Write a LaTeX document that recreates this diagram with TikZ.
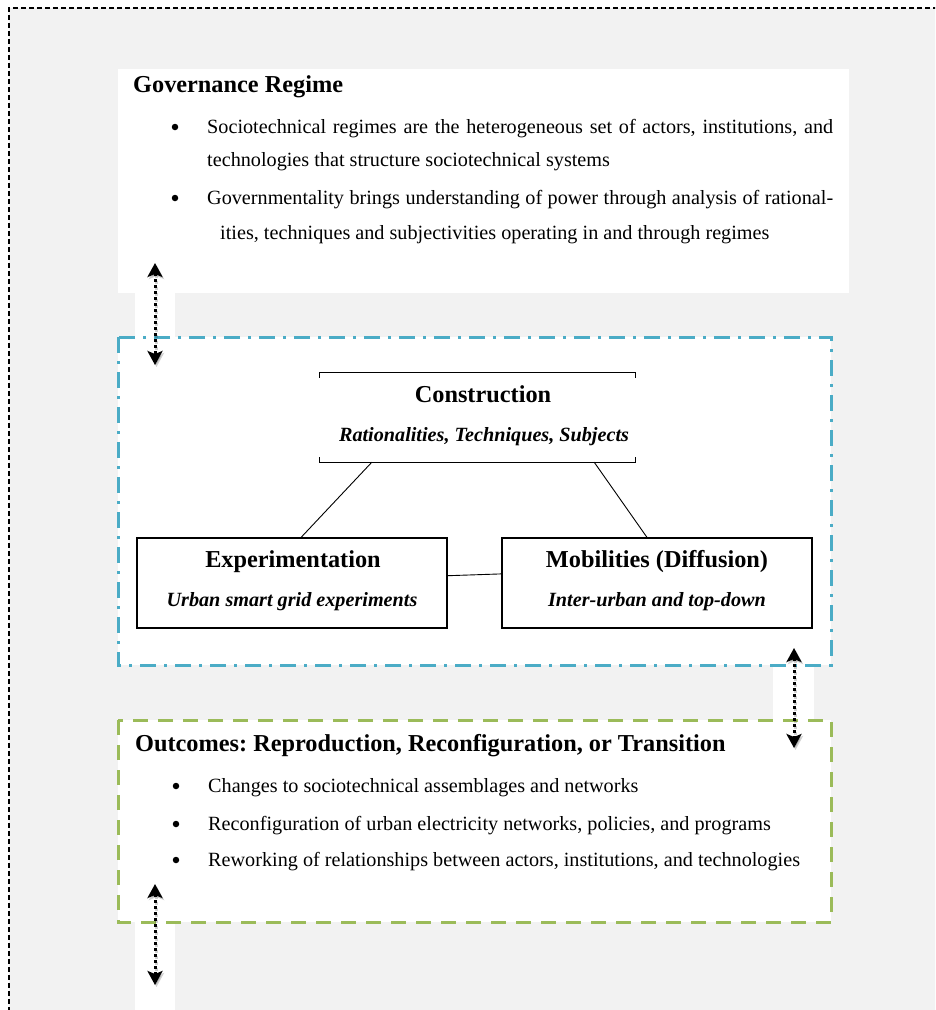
\documentclass[tikz,border=0pt]{standalone}
\usepackage{fontspec}
\setmainfont{Liberation Serif}
\frenchspacing
\usetikzlibrary{arrows.meta,calc}
\definecolor{bggray}{HTML}{F2F2F2}
\definecolor{dashblue}{HTML}{4BACC6}
\definecolor{dashgreen}{HTML}{9BBB59}
\tikzset{
  title/.style={anchor=base west,inner sep=0pt,font=\fontsize{24.3}{28}\selectfont\bfseries},
  body/.style={anchor=base west,inner sep=0pt,font=\fontsize{20.2}{24}\selectfont},
  bul/.style={circle,fill=black,inner sep=0pt,minimum size=6.5pt},
  boxtitle/.style={anchor=base,inner sep=0pt,font=\fontsize{24.3}{28}\selectfont\bfseries},
  boxsub/.style={anchor=base,inner sep=0pt,font=\fontsize{20.2}{24}\selectfont\bfseries\itshape},
  framebox/.style={draw=black,line width=1.1pt,inner sep=0pt},
  link/.style={draw=black,line width=0.9pt},
  dotarrow/.style={line width=3pt,dash pattern=on 3pt off 3pt,{Stealth[length=14pt,width=15pt,inset=3pt]}-{Stealth[length=14pt,width=15pt,inset=3pt]}},
  shadowarrow/.style={dotarrow,draw=black,opacity=0.18}
}
\begin{document}
\begin{tikzpicture}[x=1pt,y=-1pt]
\useasboundingbox (0,0) rectangle (935,1010);
\begin{scope}
\clip (0,0) rectangle (935,1010);
% outer gray area
\fill[bggray] (9,8) rectangle (945,1020);
\draw[black,line width=1.2pt,dash pattern=on 5pt off 3pt] (9,1020) -- (9,8) -- (945,8);
% white areas
\fill[white] (118,69) rectangle (849,293);
\fill[white] (135,292) rectangle (175,338);
\fill[white] (118,337) rectangle (831,665);
\fill[white] (773,664) rectangle (814,721);
\fill[white] (118,720) rectangle (831,922);
\fill[white] (135,921) rectangle (175,1015);
% blue and green frames
\draw[dashblue,line width=3pt,dash pattern=on 16pt off 8pt on 3pt off 8pt] (118,337) rectangle (831,665);
\draw[dashgreen,line width=3pt,dash pattern=on 15pt off 10pt] (118,720) rectangle (831,922);
\end{scope}

% Governance regime
\node[title] (govt) at (133,92) {Governance Regime};
\node[bul] (gb1) at (175,127) {};
\node[body] (g1) at (207,133) {\makebox[626pt][s]{Sociotechnical regimes are the heterogeneous set of actors, institutions, and}};
\node[body] (g2) at (207,166) {technologies that structure sociotechnical systems};
\node[bul] (gb2) at (175,198) {};
\node[body] (g3) at (207,204) {\makebox[626pt][s]{Governmentality brings understanding of power through analysis of rational-}};
\node[body] (g4) at (220,239) {ities, techniques and subjectivities operating in and through regimes};

% Construction box (top and bottom rules with end ticks)
\node[inner sep=0pt,minimum width=315pt,minimum height=89pt] (con) at (477.5,417.5) {};
\draw[black,line width=1.1pt] ([yshift=-5pt]con.north west) -- (con.north west) -- (con.north east) -- ([yshift=-5pt]con.north east);
\draw[black,line width=1.1pt] ([yshift=5pt]con.south west) -- (con.south west) -- (con.south east) -- ([yshift=5pt]con.south east);
\node[boxtitle] (cont) at (483,402) {Construction};
\node[boxsub] (cons) at (484,441) {Rationalities, Techniques, Subjects};

% Experimentation box
\node[framebox,minimum width=310pt,minimum height=90pt] (exp) at (292,583) {};
\node[boxtitle] (expt) at (293,567) {Experimentation};
\node[boxsub] (exps) at (292,606) {Urban smart grid experiments};

% Mobilities box
\node[framebox,minimum width=310pt,minimum height=90pt] (mob) at (657,583) {};
\node[boxtitle] (mobt) at (657,567) {Mobilities (Diffusion)};
\node[boxsub] (mobs) at (657,606) {Inter-urban and top-down};

% connectors
\draw[link] ($(con.south west)!0.165!(con.south east)$) -- ($(exp.north west)!0.529!(exp.north east)$);
\draw[link] ($(con.south west)!0.87!(con.south east)$) -- ($(mob.north west)!0.468!(mob.north east)$);
\draw[link] ($(exp.north east)!0.42!(exp.south east)$) -- ($(mob.north west)!0.40!(mob.south west)$);

% Outcomes
\node[title] (outt) at (135,751) {Outcomes: Reproduction, Reconfiguration, or Transition};
\node[bul] (ob1) at (176,786) {};
\node[body] (o1) at (208,792) {Changes to sociotechnical assemblages and networks};
\node[bul] (ob2) at (176,824) {};
\node[body] (o2) at (208,830) {Reconfiguration of urban electricity networks, policies, and programs};
\node[bul] (ob3) at (176,860) {};
\node[body] (o3) at (208,866) {Reworking of relationships between actors, institutions, and technologies};

% dotted double arrows
\coordinate (a1t) at (155,263);
\coordinate (a1b) at (155,365);
\coordinate (a2t) at (794,648);
\coordinate (a2b) at (794,748);
\coordinate (a3t) at (155,884);
\coordinate (a3b) at (155,985);
\draw[shadowarrow] ([shift={(1.5,2)}]a1t) -- ([shift={(1.5,2)}]a1b);
\draw[shadowarrow] ([shift={(1.5,2)}]a2t) -- ([shift={(1.5,2)}]a2b);
\draw[shadowarrow] ([shift={(1.5,2)}]a3t) -- ([shift={(1.5,2)}]a3b);
\draw[dotarrow] (a1t) -- (a1b);
\draw[dotarrow] (a2t) -- (a2b);
\draw[dotarrow] (a3t) -- (a3b);
\end{tikzpicture}
\end{document}
